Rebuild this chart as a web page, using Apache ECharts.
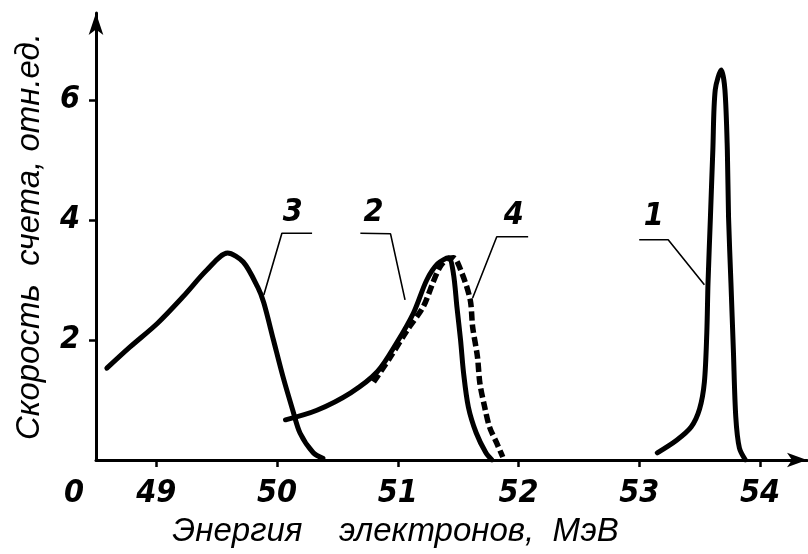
<!DOCTYPE html>
<html>
<head>
<meta charset="utf-8">
<script src="https://cdn.jsdelivr.net/npm/echarts@6.0.0/dist/echarts.min.js"></script>
<style>
html,body{margin:0;padding:0;background:#fff;}
#chart{width:808px;height:554px;}
</style>
</head>
<body>
<div id="chart"></div>
<script>
// ---- data (energy in MeV, count rate in rel. units) ----
const curve1 = [[53.15,0.12],[53.31,0.33],[53.43,0.55],[53.50,0.85],[53.54,1.30],[53.56,2.12],[53.57,2.95],[53.59,4.05],[53.61,5.17],[53.63,6.17],[53.68,6.50],[53.71,6.17],[53.73,5.17],[53.74,4.05],[53.76,2.95],[53.78,1.83],[53.80,0.72],[53.83,0.20],[53.88,0.0]];
const curve2 = [[50.07,0.67],[50.33,0.83],[50.61,1.12],[50.83,1.47],[50.99,1.95],[51.13,2.45],[51.24,3.0],[51.33,3.27],[51.42,3.37],[51.46,3.12],[51.49,2.55],[51.52,2.0],[51.545,1.45],[51.585,0.88],[51.65,0.45],[51.73,0.12],[51.78,0.0]];
const curve3 = [[48.59,1.53],[48.78,1.88],[49.01,2.28],[49.22,2.72],[49.42,3.17],[49.59,3.45],[49.72,3.30],[49.84,2.88],[49.89,2.62],[49.97,2.00],[50.05,1.38],[50.13,0.83],[50.19,0.45],[50.30,0.12],[50.38,0.03]];
const curve4 = [[50.80,1.30],[50.94,1.72],[51.08,2.17],[51.21,2.55],[51.29,2.95],[51.35,3.22],[51.41,3.35],[51.46,3.37],[51.53,3.12],[51.60,2.67],[51.62,2.22],[51.66,1.72],[51.68,1.28],[51.72,0.88],[51.76,0.55],[51.82,0.28],[51.87,0.05]];

// leader lines: [free end, corner, point on curve]
const leader1 = [[53.00,3.67],[53.24,3.67],[53.54,2.92]];
const leader2 = [[50.69,3.78],[50.94,3.77],[51.06,2.67]];
const leader3 = [[50.29,3.78],[50.04,3.78],[49.89,2.75]];
const leader4 = [[52.08,3.72],[51.82,3.72],[51.62,2.70]];
const curveLabels = [
  {name:'1', value:[53.12,4.05]},
  {name:'2', value:[50.80,4.13]},
  {name:'3', value:[50.13,4.13]},
  {name:'4', value:[51.96,4.08]}
];

const xTicks = [49,50,51,52,53,54];
const xOrigin = 48.5;
const xLabelValues = [48.5,49,50,51,52,53,54];
const yTicks = [2,4,6];
const xName = 'Энергия    электронов,  МэВ';
const yName = 'Скорость  счета, отн.ед.';

const numFont = '"DejaVu Sans Condensed","Liberation Sans Narrow","Liberation Sans",sans-serif';
const txtFont = '"Liberation Sans","DejaVu Sans",sans-serif';

const chart = echarts.init(document.getElementById('chart'));

const curveStyle = {color:'#000', width:5, cap:'round', join:'round'};
function curveSeries(data, dashed){
  return {
    type:'line', data:data, smooth:0.3, symbol:'none', silent:true,
    lineStyle: dashed ? {color:'#000', width:5.5, type:[9,4], cap:'butt', join:'round'} : curveStyle,
    z:3
  };
}
function leaderSeries(data){
  return {
    type:'line', data:data, smooth:false, symbol:'none', silent:true,
    lineStyle:{color:'#000', width:1.6}, z:2
  };
}

chart.setOption({
  backgroundColor:'#fff',
  animation:false,
  grid:{left:96, right:1, top:13, bottom:94, containLabel:false, outerBoundsMode:'none'},
  xAxis:{
    type:'value', min:xOrigin, max:54.39,
    splitLine:{show:false},
    axisLine:{show:true, onZero:false, symbol:['none','arrow'], symbolSize:[11,20],
      lineStyle:{color:'#000', width:3}},
    axisTick:{show:true, customValues:xTicks, length:7, lineStyle:{color:'#000', width:2.5}},
    axisLabel:{
      customValues:xLabelValues, margin:18, color:'#000',
      fontFamily:numFont, fontStyle:'italic', fontWeight:'bold', fontSize:32,
      formatter:function(v){ return v === xOrigin ? '{z|0}' : String(v); },
      rich:{z:{fontFamily:numFont, fontStyle:'italic', fontWeight:'bold', fontSize:32, color:'#000', padding:[0,44,0,0]}}
    },
    name:xName, nameLocation:'middle', nameGap:46,
    nameTextStyle:{color:'#000', fontFamily:txtFont, fontStyle:'italic', fontSize:33, padding:[0,112,0,0]}
  },
  yAxis:{
    type:'value', min:0, max:7.45,
    splitLine:{show:false},
    axisLine:{show:true, symbol:['none','arrow'], symbolSize:[11,22],
      lineStyle:{color:'#000', width:3}},
    axisTick:{show:true, customValues:yTicks, length:7, lineStyle:{color:'#000', width:2.5}},
    axisLabel:{
      customValues:yTicks, margin:16, color:'#000',
      fontFamily:numFont, fontStyle:'italic', fontWeight:'bold', fontSize:32,
      padding:[10,0,0,0]
    },
    name:yName, nameLocation:'middle', nameGap:50, nameRotate:90,
    nameTextStyle:{color:'#000', fontFamily:txtFont, fontStyle:'italic', fontSize:33}
  },
  series:[
    curveSeries(curve1,false),
    curveSeries(curve2,false),
    curveSeries(curve3,false),
    curveSeries(curve4,true),
    leaderSeries(leader1),
    leaderSeries(leader2),
    leaderSeries(leader3),
    leaderSeries(leader4),
    {
      type:'scatter', data:curveLabels, symbolSize:0, silent:true,
      itemStyle:{color:'#000', opacity:1},
      label:{show:true, position:'inside', formatter:'{b}', color:'#000', opacity:1,
        fontFamily:numFont, fontStyle:'italic', fontWeight:'bold', fontSize:32},
      z:4
    }
  ]
});
</script>
</body>
</html>
